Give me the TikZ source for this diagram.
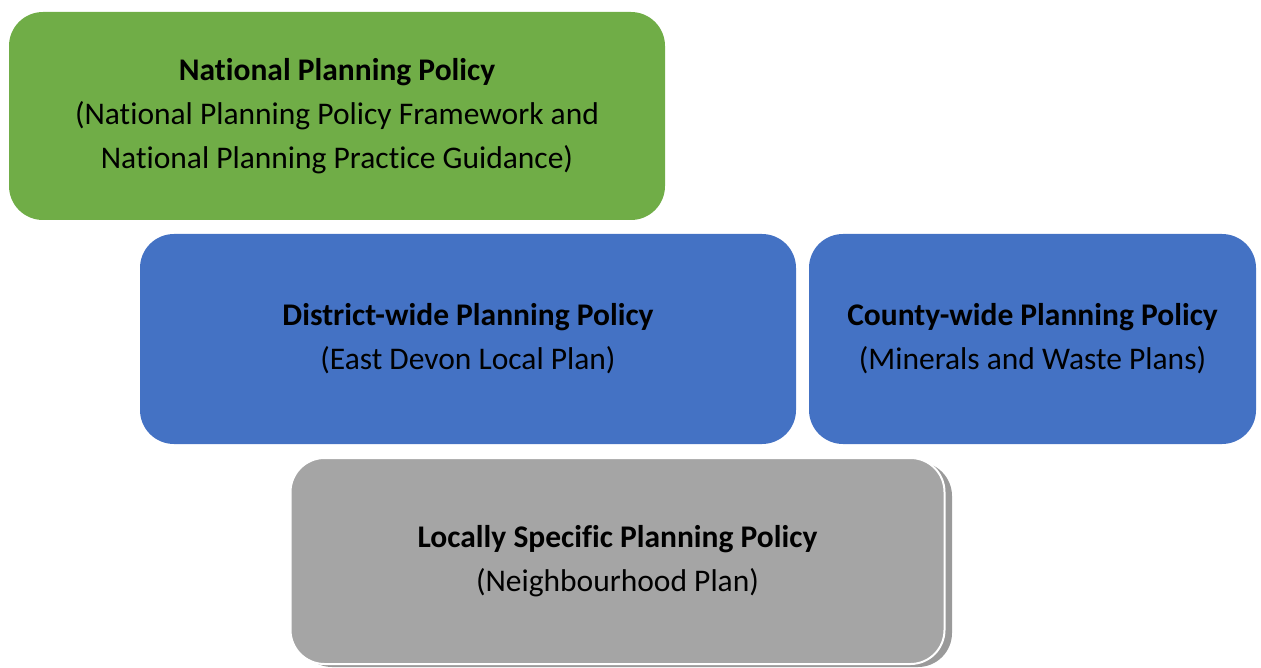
\documentclass[tikz,border=0pt]{standalone}
\usepackage{fontspec}
\setmainfont{Carlito}[Ligatures={NoCommon}]
\definecolor{pgreen}{HTML}{70AD47}
\definecolor{pblue}{HTML}{4472C4}
\definecolor{pgray}{HTML}{A5A5A5}
\definecolor{pshadow}{HTML}{9A9A9A}
\begin{document}
\begin{tikzpicture}[x=1pt,y=-1pt,
  box/.style={rounded corners=34pt, inner sep=0pt, outer sep=0pt, align=center,
    font=\fontsize{31.5}{44}\selectfont, text=black},
]
\useasboundingbox (0,0) rectangle (1261,668);
\node[box, fill=pgreen, minimum width=656pt, minimum height=208pt] (nat) at (337,116)
  {\textbf{National Planning Policy}\\(National Planning Policy Framework and\\National Planning Practice Guidance)};
\node[box, fill=pblue, minimum width=656pt, minimum height=210pt] (dist) at (468,339)
  {\textbf{District-wide Planning Policy}\\(East Devon Local Plan)};
\node[box, fill=pblue, minimum width=447pt, minimum height=210pt] (cty) at (1032.5,339)
  {\textbf{County-wide Planning Policy}\\(Minerals and Waste Plans)};
\fill[pshadow, rounded corners=34pt] (298,462) rectangle (952,667);
\node[box, fill=pgray, draw=white, line width=2pt, minimum width=654pt, minimum height=206pt] (loc) at (617.5,561)
  {\textbf{Locally Specific Planning Policy}\\(Neighbourhood Plan)};
\end{tikzpicture}
\end{document}
